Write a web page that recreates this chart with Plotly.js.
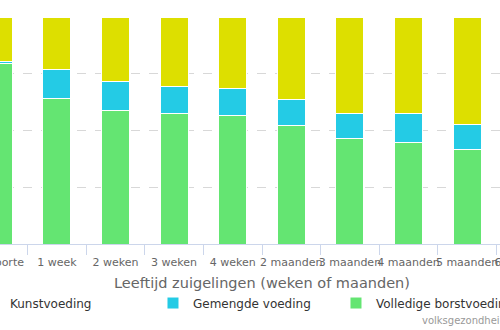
<!DOCTYPE html>
<html><head><meta charset="utf-8">
<script src="https://cdn.plot.ly/plotly-3.0.1.min.js"></script>
<style>
html,body{margin:0;padding:0;width:500px;height:330px;overflow:hidden;background:#fff}
#chart{position:absolute;left:-81px;top:0;width:660px;height:330px}
</style>
</head><body><div id="chart"></div>
<script>
const categories = ['Geboorte','1 week','2 weken','3 weken','4 weken','2 maanden','3 maanden','4 maanden','5 maanden','6 maanden'];
const volledigeBorstvoeding = [79.3, 63.9, 58.6, 57.5, 56.6, 52.4, 46.6, 44.6, 41.5, 37.5];
const gemengdeVoeding       = [1.0, 12.9, 13.0, 11.7, 11.7, 11.3, 10.9, 12.9, 11.2, 11.0];
const kunstvoeding          = [19.7, 23.2, 28.4, 30.8, 31.7, 36.3, 42.5, 42.5, 47.3, 51.5];
const seriesNames = ['Volledige borstvoeding', 'Gemengde voeding', 'Kunstvoeding'];
const seriesColors = ['#64E572', '#24CBE5', '#DDDF00'];
const yTicks = [0, 25, 50, 75, 100];
const xTitle = 'Leeftijd zuigelingen (weken of maanden)';
const credit = 'volksgezondheidenzorg.info';

const font = '"DejaVu Sans", Verdana, sans-serif';
const values = [volledigeBorstvoeding, gemengdeVoeding, kunstvoeding];
const traces = values.map((v, i) => ({
  type: 'bar', x: categories, y: v, name: seriesNames[i],
  marker: {color: seriesColors[i], line: {color: '#ffffff', width: 1}},
  hoverinfo: 'x+y+name'
}));

const layout = {
  width: 660, height: 330,
  margin: {l: 50, r: 24, t: 17, b: 86, autoexpand: false},
  paper_bgcolor: '#ffffff', plot_bgcolor: '#ffffff',
  barmode: 'stack', bargap: 0.52,
  font: {family: font, color: '#333333', size: 12},
  xaxis: {
    type: 'category', automargin: false, tickangle: 0,
    tickson: 'boundaries', ticks: 'outside', ticklen: 10, tickcolor: '#ccd6eb', tickwidth: 1,
    ticklabelstandoff: 8,
    showline: true, linecolor: '#ccd6eb', linewidth: 1, showgrid: false, zeroline: false,
    tickfont: {size: 11, color: '#666666', family: font},
    title: {text: xTitle, font: {size: 14.5, color: '#666666', family: font}, standoff: 9}
  },
  yaxis: {
    range: [0, 100], tickvals: yTicks, ticksuffix: '%', automargin: false,
    showgrid: true, gridcolor: '#d8d8d8', griddash: 'dash', gridwidth: 1,
    zeroline: false, showline: false,
    tickfont: {size: 11, color: '#666666', family: font}
  },
  legend: {
    orientation: 'h', traceorder: 'reversed',
    x: 0.0017, xanchor: 'left', y: -0.26, yanchor: 'middle',
    entrywidth: 138, entrywidthmode: 'pixels',
    font: {size: 12, color: '#333333', family: font},
    bgcolor: 'rgba(0,0,0,0)'
  },
  annotations: [{
    text: credit, xref: 'paper', yref: 'paper', x: 0.7696, y: -0.335,
    xanchor: 'left', yanchor: 'middle', showarrow: false,
    font: {size: 10, color: '#999999', family: font}
  }]
};

Plotly.newPlot('chart', traces, layout, {displayModeBar: false});
</script>
</body></html>
